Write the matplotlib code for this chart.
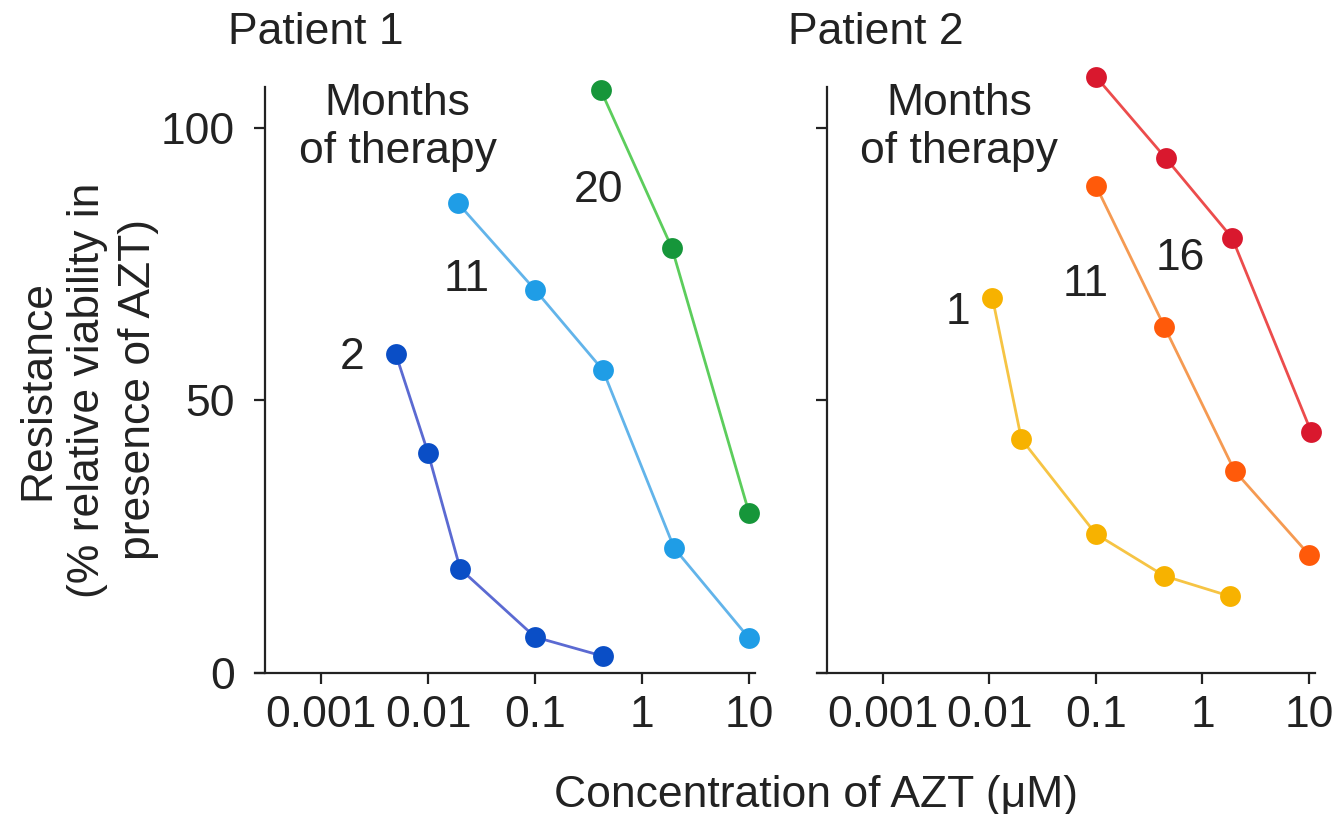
import numpy as np
import matplotlib
matplotlib.use("Agg")
import matplotlib.pyplot as plt

plt.rcParams['font.family'] = ['Liberation Sans', 'DejaVu Sans']

# ==============================
# Data
# ==============================
# Patient 1
p1_months = ["2", "11", "20"]
p1_conc = [
    [0.005, 0.01, 0.02, 0.1, 0.43],
    [0.019, 0.1, 0.43, 2.0, 10],
    [0.41, 1.9, 10],
]
p1_resist = [
    [58.5, 40.4, 19.1, 6.6, 3.1],
    [86.2, 70.3, 55.6, 22.9, 6.4],
    [107.0, 78.0, 29.4],
]

# Patient 2
p2_months = ["1", "11", "16"]
p2_conc = [
    [0.0107, 0.02, 0.1, 0.44, 1.8],
    [0.1, 0.44, 2.0, 10],
    [0.1, 0.45, 1.9, 10.5],
]
p2_resist = [
    [68.8, 42.9, 25.5, 17.8, 14.1],
    [89.4, 63.5, 37.1, 21.7],
    [109.4, 94.5, 79.8, 44.2],
]

x_ticks = [0.001, 0.01, 0.1, 1, 10]
x_ticklabels = ["0.001", "0.01", "0.1", "1", "10"]
y_ticks = [0, 50, 100]

# label anchor points (conc, resistance) for the month numbers
p1_label_pos = [(0.00195, 57.8), (0.0231, 72.1), (0.388, 88.6)]
p2_label_pos = [(0.00503, 66.2), (0.0796, 71.2), (0.616, 76.1)]

# marker / line colours
p1_marker = ["#0a4ec6", "#1f9de6", "#16963a"]
p1_line = ["#5b6ad2", "#62b4ea", "#5ccd5c"]
p2_marker = ["#f7b200", "#ff5a0a", "#d9182e"]
p2_line = ["#f6c444", "#f59a52", "#ec4c4c"]

# ==============================
# Figure
# ==============================
W, H = 1338, 814
fig = plt.figure(figsize=(W / 100, H / 100), dpi=100)

fs = 32
tick_fs = 32
ink = "#222222"


def make_axes(x0, x1, spine_x):
    ax = fig.add_axes([x0 / W, 1 - 673 / H, (x1 - x0) / W, (673 - 87) / H])
    ax.set_xscale("log")
    ax.set_xlim(10 ** -3.617, 10 ** 1.056)
    ax.set_ylim(0, 107.5)
    ax.spines['top'].set_visible(False)
    ax.spines['right'].set_visible(False)
    ax.spines['left'].set_position(('data', spine_x))
    for s in ['left', 'bottom']:
        ax.spines[s].set_linewidth(1.6)
        ax.spines[s].set_color(ink)
    ax.set_xticks(x_ticks)
    ax.set_xticklabels(x_ticklabels)
    ax.xaxis.set_minor_locator(matplotlib.ticker.NullLocator())
    ax.tick_params(axis='both', direction='out', length=8, width=1.6,
                   labelsize=tick_fs, colors=ink, pad=8)
    ax.tick_params(axis='y', pad=14)
    ax.patch.set_alpha(0)
    return ax


ax1 = make_axes(255, 755, 10 ** -3.523)
ax1.set_yticks(y_ticks)

ax2 = make_axes(817, 1315, 10 ** -3.524)
ax2.set_yticks(y_ticks)
ax2.set_yticklabels([])

for ax, concs, resists, mcols, lcols, months, lpos in [
    (ax1, p1_conc, p1_resist, p1_marker, p1_line, p1_months, p1_label_pos),
    (ax2, p2_conc, p2_resist, p2_marker, p2_line, p2_months, p2_label_pos),
]:
    for c, r, mc, lc, m, pos in zip(concs, resists, mcols, lcols, months, lpos):
        ax.plot(c, r, color=lc, lw=2, zorder=2, clip_on=False)
        ax.plot(c, r, 'o', color=mc, ms=15, mec='none', zorder=3, clip_on=False)
        ax.text(pos[0], pos[1], m, fontsize=fs, ha='center', va='center',
                color=ink)
    ax.text(0.0052, 100, "Months\nof therapy", fontsize=fs, ha='center',
            va='center', color=ink, linespacing=1.22)

fig.text(228 / W, 1 - 32 / H, "Patient 1", fontsize=fs, ha='left',
         va='center', color=ink)
fig.text(788 / W, 1 - 32 / H, "Patient 2", fontsize=fs, ha='left',
         va='center', color=ink)

fig.text(816 / W, 1 - 795 / H, "Concentration of AZT (μM)", fontsize=fs,
         ha='center', va='center', color=ink)
fig.text(88 / W, 1 - 390 / H,
         "Resistance\n(% relative viability in\npresence of AZT)",
         fontsize=fs, ha='center', va='center', rotation=90,
         color=ink, linespacing=1.3)

plt.savefig("out.png", dpi=100)
